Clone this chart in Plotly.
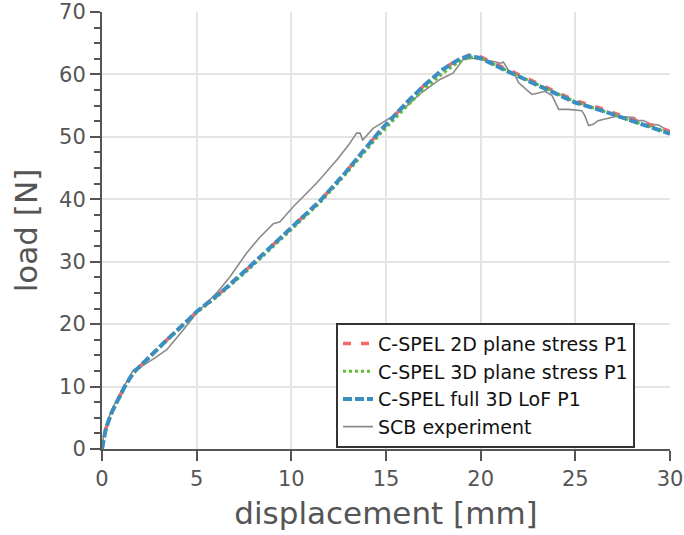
import plotly.graph_objects as go

# simulation curves (displacement [mm], load [N])
x_2d = [0, 0.2, 0.5, 0.8, 1.2, 1.65, 2.4, 3.4, 4.6, 5.0, 5.8, 6.4, 7.8, 9.2, 10.0, 11.5, 12.75, 14.0, 14.7, 16.1, 17.0, 18.0, 18.8, 19.4, 20.0, 21.2, 22.5, 23.8, 25.0, 26.4, 28.0, 29.0, 30.0]
y_2d = [0, 3.2, 5.8, 7.6, 10.0, 12.2, 14.5, 17.4, 20.8, 22.0, 23.9, 25.4, 29.2, 33.2, 35.4, 39.7, 43.9, 48.4, 51.0, 55.5, 58.2, 60.8, 62.4, 63.1, 62.8, 61.1, 59.3, 57.4, 55.8, 54.5, 52.8, 51.9, 50.9]

x_3d = [0, 0.2, 0.5, 0.8, 1.2, 1.65, 2.4, 3.4, 4.6, 5.0, 5.8, 6.4, 7.8, 9.2, 10.0, 11.5, 12.75, 14.0, 14.7, 16.1, 17.0, 18.0, 18.8, 19.4, 20.0, 21.2, 22.5, 23.8, 25.0, 26.4, 28.0, 29.0, 30.0]
y_3d = [0, 3.1, 5.7, 7.5, 9.9, 12.1, 14.4, 17.3, 20.7, 21.9, 23.7, 25.2, 28.9, 32.9, 35.1, 39.4, 43.6, 48.0, 50.5, 54.9, 57.6, 60.2, 61.9, 62.8, 62.6, 60.9, 59.1, 57.2, 55.6, 54.2, 52.5, 51.6, 50.6]

x_full = [0, 0.2, 0.5, 0.8, 1.2, 1.65, 2.4, 3.4, 4.6, 5.0, 5.8, 6.4, 7.8, 9.2, 10.0, 11.5, 12.75, 14.0, 14.7, 16.1, 17.0, 18.0, 18.8, 19.4, 20.0, 21.2, 22.5, 23.8, 25.0, 26.4, 28.0, 29.0, 30.0]
y_full = [0, 3.2, 5.8, 7.6, 10.0, 12.2, 14.5, 17.4, 20.8, 22.0, 23.9, 25.4, 29.2, 33.2, 35.4, 39.7, 43.9, 48.4, 51.0, 55.5, 58.2, 60.8, 62.3, 63.0, 62.6, 60.8, 59.0, 57.1, 55.5, 54.2, 52.5, 51.6, 50.5]

# experiment
x_exp = [0, 0.1, 0.3, 0.6, 1.0, 1.4, 1.65, 1.9, 2.18, 2.8, 3.42, 4.3, 5.0, 6.06, 6.76, 7.64, 8.3, 9.05, 9.4, 10.1, 11.34, 12.4, 13.0, 13.45, 13.63, 13.77, 14.33, 14.78, 15.5, 16.2, 16.8, 17.3, 17.85, 18.54, 19.07, 19.6, 19.94, 20.5, 21.07, 21.2, 21.5, 21.76, 22.0, 22.4, 22.71, 23.0, 23.4, 23.77, 24.12, 24.64, 25.34, 25.5, 25.7, 25.95, 26.2, 26.9, 27.2, 28.1, 28.3, 28.6, 29.0, 29.4, 29.8, 30.0]
y_exp = [0, 2.5, 4.6, 6.8, 9.2, 11.3, 12.6, 13.1, 13.4, 14.6, 15.9, 19.1, 21.8, 25.0, 27.6, 31.4, 33.8, 36.1, 36.4, 38.8, 42.6, 46.3, 48.6, 50.6, 50.6, 49.5, 51.4, 52.2, 53.6, 55.2, 56.9, 58.0, 59.2, 60.2, 62.4, 62.6, 62.4, 62.2, 61.8, 62.0, 60.5, 60.2, 58.7, 57.6, 56.8, 57.0, 57.3, 56.6, 54.4, 54.4, 54.2, 53.4, 51.8, 52.0, 52.6, 53.1, 53.3, 53.1, 52.6, 52.6, 52.0, 51.9, 51.2, 50.8]

names = ["C-SPEL 2D plane stress P1", "C-SPEL 3D plane stress P1", "C-SPEL full 3D LoF P1", "SCB experiment"]

fig = go.Figure()
fig.add_trace(go.Scatter(x=x_exp, y=y_exp, mode="lines", name=names[3], legendrank=4,
                         line=dict(color="#8a8a8a", width=1.6)))
fig.add_trace(go.Scatter(x=x_2d, y=y_2d, mode="lines", name=names[0], legendrank=1,
                         line=dict(color="#f4686a", width=3.5, dash="8px,10px")))
fig.add_trace(go.Scatter(x=x_3d, y=y_3d, mode="lines", name=names[1], legendrank=2,
                         line=dict(color="#5fbf2e", width=3, dash="3px,3px")))
fig.add_trace(go.Scatter(x=x_full, y=y_full, mode="lines", name=names[2], legendrank=3,
                         line=dict(color="#3a8fc0", width=4, dash="9px,3px")))

axis_font = dict(family="DejaVu Sans", size=21, color="#555555")
title_font = dict(family="DejaVu Sans", size=31, color="#555555")

fig.update_layout(
    width=684, height=535,
    margin=dict(l=102, r=14, t=12, b=86),
    plot_bgcolor="white", paper_bgcolor="white",
    font=dict(family="DejaVu Sans"),
    legend=dict(x=0.412, y=0.146, xanchor="left", yanchor="middle",
                bgcolor="white", bordercolor="#333333", borderwidth=2,
                font=dict(family="DejaVu Sans", size=19, color="#111111"),
                tracegroupgap=0, itemwidth=30),
    showlegend=True,
)
fig.update_xaxes(range=[0, 30], tickvals=[0, 5, 10, 15, 20, 25, 30], automargin=False,
                 showline=True, linecolor="#555555", linewidth=2,
                 ticks="outside", ticklen=10, tickwidth=2, tickcolor="#555555",
                 showgrid=True, gridcolor="#e4e4e4", gridwidth=2, zeroline=False,
                 tickfont=axis_font, title=dict(text="displacement [mm]", font=title_font, standoff=12))
fig.update_yaxes(range=[0, 70], tickvals=[0, 10, 20, 30, 40, 50, 60, 70], automargin=False,
                 showline=True, linecolor="#555555", linewidth=2,
                 ticks="outside", ticklen=10, tickwidth=2, tickcolor="#555555",
                 minor=dict(dtick=2.5, ticks="outside", ticklen=6, tickwidth=2, tickcolor="#555555", showgrid=False),
                 showgrid=True, gridcolor="#e4e4e4", gridwidth=2, zeroline=False,
                 tickfont=axis_font, title=dict(text="load [N]", font=title_font, standoff=12))

fig.write_html("out.html")
